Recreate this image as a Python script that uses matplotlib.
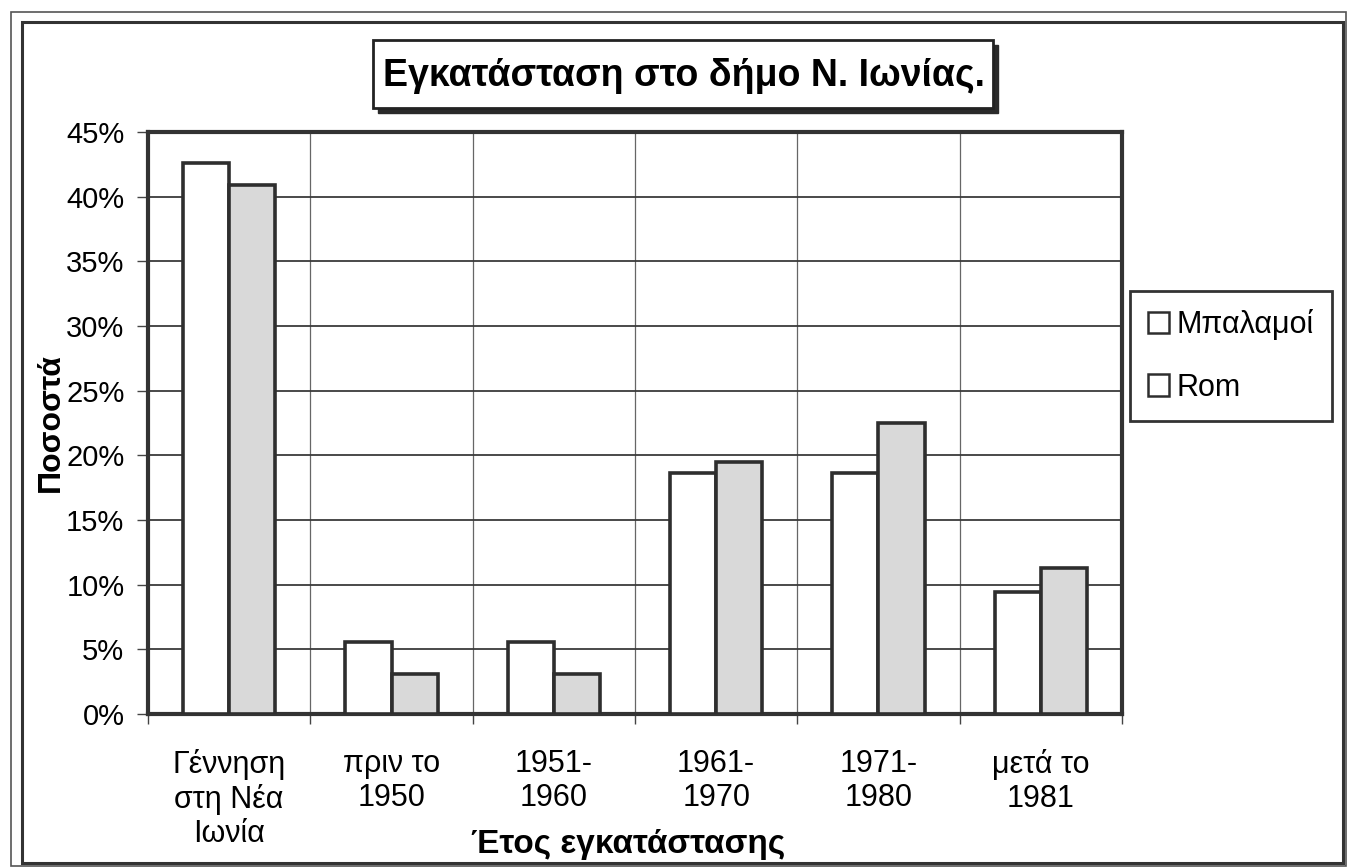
import numpy as np
import matplotlib.pyplot as plt
from matplotlib.patches import Rectangle
from matplotlib.ticker import FixedLocator, PercentFormatter

plt.rcParams['font.family'] = ['Liberation Sans', 'DejaVu Sans']

# data (percent)
categories = ["Γέννηση\nστη Νέα\nΙωνία", "πριν το\n1950", "1951-\n1960",
              "1961-\n1970", "1971-\n1980", "μετά το\n1981"]
mpalamoi = [42.6, 5.6, 5.6, 18.6, 18.6, 9.4]
rom = [40.9, 3.1, 3.1, 19.5, 22.5, 11.3]
series_names = ["Μπαλαμοί", "Rom"]

edge = '#2e2e2e'
gray = '#d9d9d9'

fig = plt.figure(figsize=(13.48, 8.68), dpi=100)
W, H = 1348, 868

# rectangles given in pixel coords -> figure fraction
def px_rect(x0, y0, x1, y1, **kw):
    kw.setdefault('fill', False)
    r = Rectangle((x0 / W, 1 - y1 / H), (x1 - x0) / W, (y1 - y0) / H,
                  transform=fig.transFigure, **kw)
    fig.patches.append(r)
    return r

# outer double frame
px_rect(11, 12, 1346, 866, edgecolor='#555555', linewidth=1.2)
px_rect(22, 22, 1343, 863, edgecolor='#333333', linewidth=2.2)

ax = fig.add_axes([148 / W, 1 - 714 / H, (1122 - 148) / W, (714 - 132) / H])

x = np.arange(len(categories))
w = 0.285
ax.bar(x - w / 2, mpalamoi, w, color='white', edgecolor=edge, linewidth=2.6,
       label=series_names[0], zorder=3)
ax.bar(x + w / 2, rom, w, color=gray, edgecolor=edge, linewidth=2.6,
       label=series_names[1], zorder=3)

ax.set_xlim(-0.5, len(categories) - 0.5)
ax.set_ylim(0, 45)
ax.set_yticks(np.arange(0, 46, 5))
ax.yaxis.set_major_formatter(PercentFormatter(decimals=0))

ax.set_xticks(x)
ax.set_xticklabels(categories, fontsize=22, linespacing=1.17)
ax.xaxis.set_minor_locator(FixedLocator(np.arange(-0.5, len(categories), 1.0)))
ax.tick_params(axis='x', which='major', length=0, pad=25)
ax.tick_params(axis='x', which='minor', length=7, width=1, color='#444444', direction='out')
ax.tick_params(axis='y', labelsize=21, length=8, width=1, color='#444444', pad=9)

ax.grid(axis='y', which='major', color='#3a3a3a', linewidth=1.3, zorder=0)
ax.grid(axis='x', which='minor', color='#666666', linewidth=0.9, zorder=0)
ax.set_axisbelow(True)

for s in ax.spines.values():
    s.set_linewidth(3)
    s.set_color('#333333')

ax.set_ylabel("Ποσοστά", fontsize=23, fontweight='bold', labelpad=0)
fig.text(628 / W, 1 - 845 / H, "Έτος εγκατάστασης", fontsize=24,
         fontweight='bold', ha='center', va='center')

# title in a box with a drop shadow
px_rect(378, 45, 998, 113, facecolor='#2a2a2a', edgecolor='#2a2a2a', linewidth=1, fill=True)
px_rect(373, 40, 993, 108, facecolor='white', edgecolor='#222222', linewidth=2, fill=True)
fig.text(684 / W, 1 - 76 / H, "Εγκατάσταση στο δήμο Ν. Ιωνίας.", fontsize=27,
         fontweight='bold', ha='center', va='center')

leg = ax.legend(loc='center', bbox_to_anchor=(1231 / W, 1 - 356 / H),
                bbox_transform=fig.transFigure, fontsize=22, frameon=True,
                fancybox=False, edgecolor='#333333', framealpha=1,
                handlelength=0.7, handleheight=0.7, handletextpad=0.25,
                labelspacing=1.05, borderpad=0.6, borderaxespad=0)
leg.get_frame().set_linewidth(2)
for h in leg.legend_handles:
    h.set_facecolor('white')
    h.set_linewidth(1.8)

fig.savefig('out.png', dpi=100)
